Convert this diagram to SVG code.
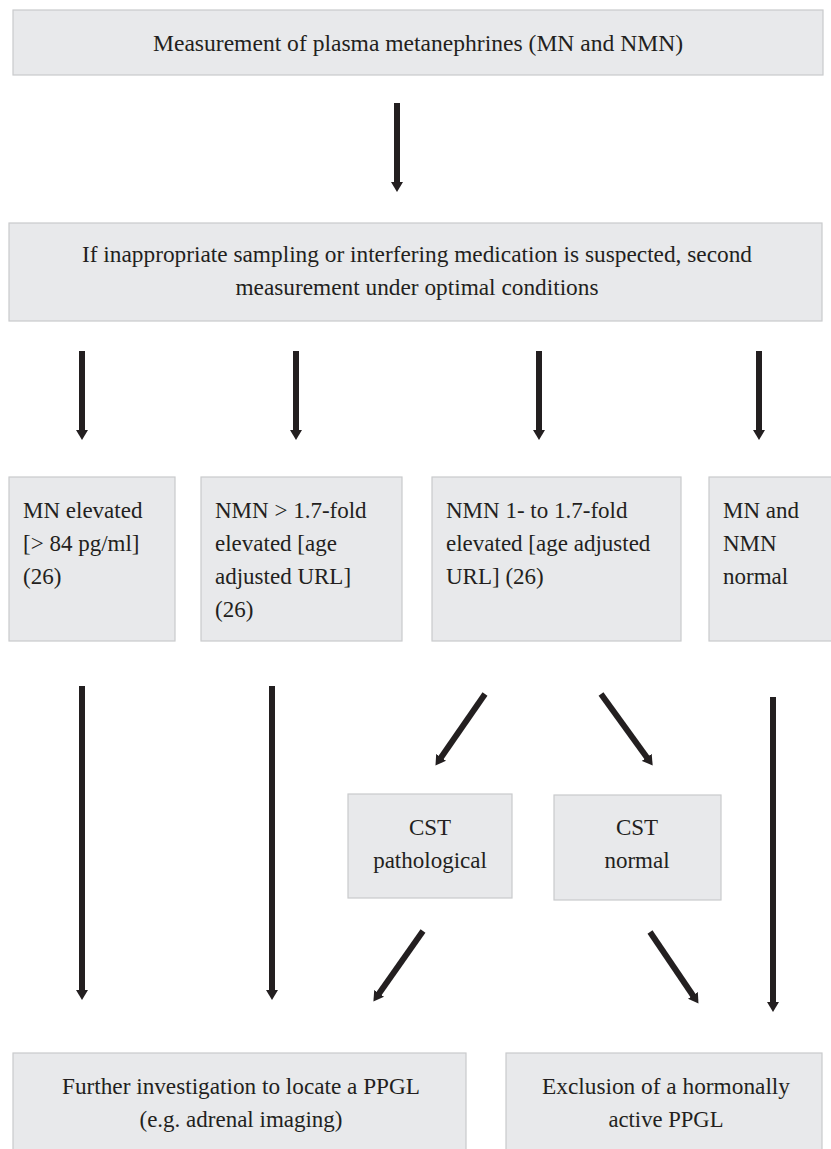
<svg xmlns="http://www.w3.org/2000/svg" width="831" height="1149" viewBox="0 0 831 1149">
<style>
.box{fill:#e8e9eb;stroke:#c9cacc;stroke-width:1.2}
.t{font-family:"Liberation Serif","Times New Roman",serif;fill:#231f20}
.c{font-size:24px;text-anchor:middle}
.l{font-size:23px}
.m{font-size:23px;text-anchor:middle}
.a{stroke:#231f20;stroke-width:6;fill:none;marker-end:url(#ah)}
</style>
<defs>
<marker id="ah" markerUnits="userSpaceOnUse" viewBox="0 0 12 12" refX="2" refY="6" markerWidth="12" markerHeight="12" orient="auto">
<path d="M0,0 L10,6 L0,12 z" fill="#231f20"/>
</marker>
</defs>
<rect width="831" height="1149" fill="#fff"/>

<g id="n1"><rect class="box" x="13" y="10" width="810" height="65"/>
<text class="t c" x="418" y="51" textLength="530" lengthAdjust="spacingAndGlyphs">Measurement of plasma metanephrines (MN and NMN)</text></g>

<g id="n2"><rect class="box" x="9" y="223" width="813" height="98"/>
<text class="t c" x="417" y="262" textLength="670" lengthAdjust="spacingAndGlyphs">If inappropriate sampling or interfering medication is suspected, second</text>
<text class="t c" x="417" y="295" textLength="363" lengthAdjust="spacingAndGlyphs">measurement under optimal conditions</text></g>

<g id="n3"><rect class="box" x="9" y="477" width="166" height="164"/>
<text class="t l" x="23" y="518">MN elevated</text>
<text class="t l" x="23" y="551">[&gt; 84 pg/ml]</text>
<text class="t l" x="23" y="584">(26)</text></g>

<g id="n4"><rect class="box" x="201" y="477" width="201" height="164"/>
<text class="t l" x="215" y="518">NMN &gt; 1.7-fold</text>
<text class="t l" x="215" y="551">elevated [age</text>
<text class="t l" x="215" y="584">adjusted URL]</text>
<text class="t l" x="215" y="617">(26)</text></g>

<g id="n5"><rect class="box" x="432" y="477" width="249" height="164"/>
<text class="t l" x="446" y="518">NMN 1- to 1.7-fold</text>
<text class="t l" x="446" y="551">elevated [age adjusted</text>
<text class="t l" x="446" y="584">URL] (26)</text></g>

<g id="n6"><rect class="box" x="709" y="477" width="124" height="164"/>
<text class="t l" x="723" y="518">MN and</text>
<text class="t l" x="723" y="551">NMN</text>
<text class="t l" x="723" y="584">normal</text></g>

<g id="n7"><rect class="box" x="348" y="794" width="164" height="104"/>
<text class="t m" x="430" y="835">CST</text>
<text class="t m" x="430" y="868">pathological</text></g>

<g id="n8"><rect class="box" x="554" y="795" width="167" height="105"/>
<text class="t m" x="637" y="835">CST</text>
<text class="t m" x="637" y="868">normal</text></g>

<g id="n9"><rect class="box" x="13" y="1053" width="453" height="100"/>
<text class="t c" x="241" y="1094" textLength="358" lengthAdjust="spacingAndGlyphs">Further investigation to locate a PPGL</text>
<text class="t c" x="241" y="1127" textLength="203" lengthAdjust="spacingAndGlyphs">(e.g. adrenal imaging)</text></g>

<g id="n10"><rect class="box" x="506" y="1053" width="316" height="100"/>
<text class="t c" x="666" y="1094" textLength="248" lengthAdjust="spacingAndGlyphs">Exclusion of a hormonally</text>
<text class="t c" x="666" y="1127" textLength="115" lengthAdjust="spacingAndGlyphs">active PPGL</text></g>

<g id="connectors">
<line class="a" x1="397" y1="103" x2="397" y2="184"/>
<line class="a" x1="82" y1="351" x2="82" y2="432"/>
<line class="a" x1="296" y1="351" x2="296" y2="432"/>
<line class="a" x1="539" y1="351" x2="539" y2="432"/>
<line class="a" x1="759" y1="351" x2="759" y2="432"/>
<line class="a" x1="82" y1="686" x2="82" y2="992"/>
<line class="a" x1="272" y1="686" x2="272" y2="992"/>
<line class="a" x1="773" y1="697" x2="773" y2="1004"/>
<line class="a" x1="485" y1="694" x2="440" y2="759"/>
<line class="a" x1="601" y1="694" x2="648" y2="759"/>
<line class="a" x1="423" y1="931" x2="378" y2="995"/>
<line class="a" x1="650" y1="932" x2="694" y2="997"/>
</g>
</svg>
